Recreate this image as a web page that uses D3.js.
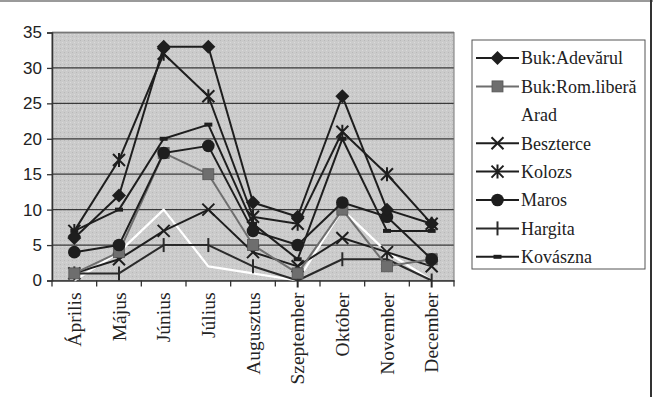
<!DOCTYPE html>
<html><head><meta charset="utf-8">
<script src="https://cdn.jsdelivr.net/npm/d3@7"></script>
<style>body{margin:0;background:#fff}svg{display:block}</style>
</head><body>
<svg id="c" width="653" height="397"></svg>
<script>
const months = ["Április","Május","Június","Július","Augusztus","Szeptember","Október","November","December"];
const yTicks = [0,5,10,15,20,25,30,35];
const seriesNames = ["Buk:Adevărul","Buk:Rom.liberă","Arad","Beszterce","Kolozs","Maros","Hargita","Kovászna"];
const bukAdevarul = [6,12,33,33,11,9,26,10,8];
const bukRomLibera = [1,4,18,15,5,1,10,2,3];
const arad = [0,4,10,2,1,0,10,4,0];
const beszterce = [1,3,7,10,4,2,6,4,2];
const kolozs = [7,17,32,26,9,8,21,15,8];
const maros = [4,5,18,19,7,5,11,9,3];
const hargita = [1,1,5,5,2,0,3,3,0];
const kovaszna = [7,10,20,22,8,3,20,7,7];
const seriesValues = [bukAdevarul,bukRomLibera,arad,beszterce,kolozs,maros,hargita,kovaszna];
const markers = ["diamond","square","none","x","star","circle","plus","dash"];
const colors = ["#1e1e1e","#6e6e6e","#ffffff","#1e1e1e","#1e1e1e","#1e1e1e","#2a2a2a","#1e1e1e"];

const svg = d3.select("#c");
// frame
svg.append("rect").attr("x",0).attr("y",0).attr("width",653).attr("height",2).attr("fill","#9a9a9a");
svg.append("rect").attr("x",650).attr("y",0).attr("width",2).attr("height",397).attr("fill","#333");

const L=52,R=454,T=32.5,B=280.5;
const x = d3.scaleBand().domain(months).range([L,R]);
const y = d3.scaleLinear().domain([0,35]).range([B,T]);

// plot bg with texture
const defs = svg.append("defs");
const pat = defs.append("pattern").attr("id","tex").attr("width",4).attr("height",4).attr("patternUnits","userSpaceOnUse");
pat.append("rect").attr("width",4).attr("height",4).attr("fill","#cbcbcb");
pat.append("rect").attr("x",0).attr("y",0).attr("width",1).attr("height",1).attr("fill","#b8b8b8");
pat.append("rect").attr("x",2).attr("y",2).attr("width",1).attr("height",1).attr("fill","#dadada");
svg.append("rect").attr("x",L).attr("y",T).attr("width",R-L).attr("height",B-T).attr("fill","url(#tex)");

// gridlines
svg.append("g").selectAll("line").data(yTicks.filter(d=>d>0)).join("line")
  .attr("x1",L).attr("x2",R).attr("y1",d=>y(d)).attr("y2",d=>y(d))
  .attr("stroke","#3a3a3a").attr("stroke-width",1.3);
svg.append("rect").attr("x",L).attr("y",T).attr("width",R-L).attr("height",B-T).attr("fill","none").attr("stroke","#777").attr("stroke-width",1);

// axes
const ya = svg.append("g").attr("transform",`translate(${L},0)`)
  .call(d3.axisLeft(y).tickValues(yTicks).tickSize(5).tickPadding(5));
ya.select(".domain").attr("stroke","#333").attr("stroke-width",1.5);
ya.selectAll(".tick line").attr("stroke","#333").attr("stroke-width",1.3);
ya.selectAll("text").attr("font-family","Liberation Sans, Arial, sans-serif").attr("font-size",17).attr("fill","#222");

const xa = svg.append("g").attr("transform",`translate(0,${B})`)
  .call(d3.axisBottom(x).tickSize(0).tickPadding(0));
xa.select(".domain").attr("stroke","#333").attr("stroke-width",1.5);
xa.selectAll(".tick text").attr("font-family","Liberation Serif, Times New Roman, serif").attr("font-size",19.5).attr("fill","#222")
  .attr("transform","rotate(-90)").attr("text-anchor","end").attr("dy","0.35em").attr("x",-12).attr("y",0);
// boundary ticks
svg.append("g").selectAll("line").data(d3.range(months.length+1)).join("line")
  .attr("x1",i=>L+i*x.step()).attr("x2",i=>L+i*x.step()).attr("y1",B).attr("y2",B+6)
  .attr("stroke","#333").attr("stroke-width",1.3);

function drawMarker(g, type, cx, cy, col){
  if(type==="diamond"){
    g.append("path").attr("d",`M${cx},${cy-7}L${cx+7},${cy}L${cx},${cy+7}L${cx-7},${cy}Z`).attr("fill",col);
  } else if(type==="square"){
    g.append("rect").attr("x",cx-5.5).attr("y",cy-5.5).attr("width",11).attr("height",11).attr("fill",col).attr("stroke","#555").attr("stroke-width",0.8);
  } else if(type==="circle"){
    g.append("circle").attr("cx",cx).attr("cy",cy).attr("r",6.3).attr("fill",col);
  } else if(type==="x"){
    g.append("path").attr("d",`M${cx-6},${cy-6}L${cx+6},${cy+6}M${cx-6},${cy+6}L${cx+6},${cy-6}`).attr("stroke",col).attr("stroke-width",2);
  } else if(type==="star"){
    g.append("path").attr("d",`M${cx-6},${cy-6}L${cx+6},${cy+6}M${cx-6},${cy+6}L${cx+6},${cy-6}M${cx},${cy-7}L${cx},${cy+7}`).attr("stroke",col).attr("stroke-width",2);
  } else if(type==="plus"){
    g.append("path").attr("d",`M${cx},${cy-7}L${cx},${cy+7}`).attr("stroke",col).attr("stroke-width",2);
  } else if(type==="dash"){
    g.append("path").attr("d",`M${cx-4},${cy}L${cx+4},${cy}`).attr("stroke",col).attr("stroke-width",4);
  }
}

const line = d3.line().x((d,i)=>x(months[i])+x.bandwidth()/2).y(d=>y(d));
const order = [2,6,3,1,5,7,4,0];
order.forEach(s=>{
  const g = svg.append("g");
  g.append("path").datum(seriesValues[s]).attr("d",line).attr("fill","none")
    .attr("stroke",colors[s]).attr("stroke-width",s===2?2.2:2).attr("stroke-linejoin","round");
  seriesValues[s].forEach((v,i)=>drawMarker(g, markers[s], x(months[i])+x.bandwidth()/2, y(v), colors[s]));
});

// legend
const lg = svg.append("g");
lg.append("rect").attr("x",472).attr("y",40).attr("width",173).attr("height",229).attr("fill","#fff").attr("stroke","#555").attr("stroke-width",1);
seriesNames.forEach((n,i)=>{
  const cy = 58 + i*28.4;
  const gi = lg.append("g");
  if(i!==2){
    gi.append("line").attr("x1",476).attr("x2",519).attr("y1",cy).attr("y2",cy).attr("stroke",colors[i]).attr("stroke-width",2);
    drawMarker(gi, markers[i], 497.5, cy, colors[i]);
  }
  gi.append("text").attr("x",521).attr("y",cy).attr("dy","0.35em").text(n)
    .attr("font-family","Liberation Serif, Times New Roman, serif").attr("font-size",18).attr("fill","#222");
});
</script>
</body></html>
